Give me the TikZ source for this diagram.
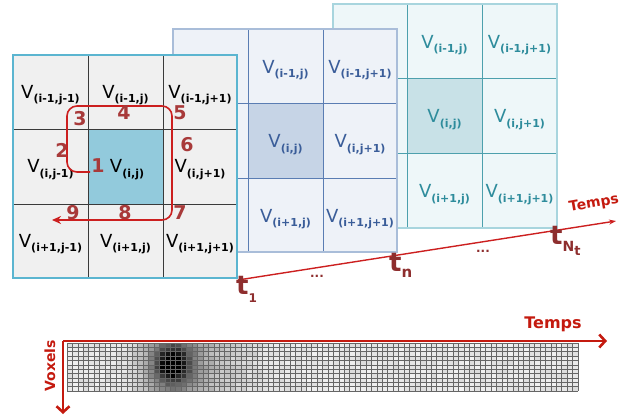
\documentclass[tikz,border=0pt]{standalone}
\usepackage{fontspec}
\setmainfont{DejaVu Sans}
\usetikzlibrary{arrows.meta}

\definecolor{loopred}{HTML}{CC1F1F}
\definecolor{numred}{HTML}{A83A3A}
\definecolor{tred}{HTML}{8E2E2E}
\definecolor{axisred}{HTML}{C41A0F}
\definecolor{frontborder}{HTML}{5BB5D0}
\definecolor{frontfill}{HTML}{F0F0F0}
\definecolor{frontmid}{HTML}{92CADC}
\definecolor{frontline}{HTML}{3A3A3A}
\definecolor{midborder}{HTML}{A9BDD9}
\definecolor{midfill}{HTML}{EEF2F8}
\definecolor{midmid}{HTML}{C6D4E6}
\definecolor{midline}{HTML}{5A7DB3}
\definecolor{midtext}{HTML}{3A5D99}
\definecolor{backborder}{HTML}{A8D5DE}
\definecolor{backfill}{HTML}{EEF7F9}
\definecolor{backmid}{HTML}{C8E1E7}
\definecolor{backline}{HTML}{4DA0AD}
\definecolor{backtext}{HTML}{2E8C9C}

% voxel label V_(..)
\newcommand{\vox}[1]{{\fontsize{18}{18}\selectfont V}\raisebox{-0.45em}{\fontsize{11}{11}\selectfont\bfseries(#1)}}

\begin{document}
\begin{tikzpicture}[x=1pt,y=-1pt,
  cell label/.style={inner sep=0pt,text=#1},
  step num/.style={inner sep=0pt,text=numred,font=\fontsize{19}{19}\selectfont\bfseries},
  time label/.style={inner sep=0pt,text=tred,font=\fontsize{26}{26}\selectfont\bfseries},
  dots/.style={inner sep=0pt,text=tred,font=\fontsize{12}{12}\selectfont\bfseries},
  axis title/.style={inner sep=0pt,text=axisred,font=\fontsize{#1}{#1}\selectfont\bfseries},
  scan/.style={loopred,line width=1.6pt,rounded corners=10pt,-{Stealth[length=9pt,width=8pt]}},
  time axis/.style={loopred,line width=1.4pt,-{Stealth[length=7pt,width=5pt]}},
  big axis/.style={axisred,line width=2.6pt,-{Straight Barb[length=6pt,width=13pt]}}]
\useasboundingbox (0,0) rectangle (630,418);

% back frame (t_Nt)
\fill[backfill] (333,4) rectangle (557,228);
\fill[backmid] (407,78) rectangle (482,153);
\draw[backline,line width=1pt] (407,4) -- (407,228) (482,4) -- (482,228)
  (333,78) -- (557,78) (333,153) -- (557,153);
\draw[backborder,line width=2pt] (333,4) rectangle (557,228);
\node[cell label=backtext] (b12) at (444.5,45) {\vox{i-1,j}};
\node[cell label=backtext] (b13) at (519.5,45) {\vox{i-1,j+1}};
\node[cell label=backtext] (b22) at (444.5,119.5) {\vox{i,j}};
\node[cell label=backtext] (b23) at (519.5,119.5) {\vox{i,j+1}};
\node[cell label=backtext] (b32) at (444.5,194.5) {\vox{i+1,j}};
\node[cell label=backtext] (b33) at (519.5,194.5) {\vox{i+1,j+1}};

% middle frame (t_n)
\fill[midfill] (173,29) rectangle (397,252);
\fill[midmid] (248,103) rectangle (323,178);
\draw[midline,line width=1pt] (248,29) -- (248,252) (323,29) -- (323,252)
  (173,103) -- (397,103) (173,178) -- (397,178);
\draw[midborder,line width=2pt] (173,29) rectangle (397,252);
\node[cell label=midtext] (m12) at (285.5,70) {\vox{i-1,j}};
\node[cell label=midtext] (m13) at (360,70) {\vox{i-1,j+1}};
\node[cell label=midtext] (m22) at (285.5,144.5) {\vox{i,j}};
\node[cell label=midtext] (m23) at (360,144.5) {\vox{i,j+1}};
\node[cell label=midtext] (m32) at (285.5,219) {\vox{i+1,j}};
\node[cell label=midtext] (m33) at (360,219) {\vox{i+1,j+1}};

% front frame (t_1)
\fill[frontfill] (13,55) rectangle (237,278);
\fill[frontmid] (88,129) rectangle (163,204);
\draw[frontline,line width=1pt] (88,55) -- (88,278) (163,55) -- (163,278)
  (13,129) -- (237,129) (13,204) -- (237,204);
\draw[frontborder,line width=2pt] (13,55) rectangle (237,278);
\node[cell label=black] (f11) at (50.5,95) {\vox{i-1,j-1}};
\node[cell label=black] (f12) at (125.5,95) {\vox{i-1,j}};
\node[cell label=black] (f13) at (200,95) {\vox{i-1,j+1}};
\node[cell label=black] (f21) at (50.5,169.5) {\vox{i,j-1}};
\node[cell label=black] (f22) at (127,169.5) {\vox{i,j}};
\node[cell label=black] (f23) at (200,169.5) {\vox{i,j+1}};
\node[cell label=black] (f31) at (50.5,244) {\vox{i+1,j-1}};
\node[cell label=black] (f32) at (125.5,244) {\vox{i+1,j}};
\node[cell label=black] (f33) at (200,244) {\vox{i+1,j+1}};

% scan order around the central voxel
\coordinate (scanstart) at (90,172);
\coordinate (scanend) at (52,220);
\draw[scan] (scanstart) -- (67,172) -- (67,106) -- (172,106) -- (172,220) -- (scanend);
\node[step num] (n1) at (98,166) {1};
\node[step num] (n2) at (62,150) {2};
\node[step num] (n3) at (80,119) {3};
\node[step num] (n4) at (124,113) {4};
\node[step num] (n5) at (180,113) {5};
\node[step num] (n6) at (187,145) {6};
\node[step num] (n7) at (180,213) {7};
\node[step num] (n8) at (125,213) {8};
\node[step num] (n9) at (73,213) {9};

% time axis
\coordinate (tstart) at (238,280);
\coordinate (tstop) at (616,221);
\draw[time axis] (tstart) -- (tstop);
\node[time label,anchor=north west] (t1) at (236,276)
  {t\raisebox{-0.3em}{\fontsize{12}{12}\selectfont 1}};
\node[time label,anchor=north west] (tn) at (389,253)
  {t\raisebox{-0.22em}{\fontsize{15}{15}\selectfont n}};
\node[time label,anchor=north west] (tN) at (550,226)
  {t\raisebox{-0.28em}{\fontsize{14}{14}\selectfont N\raisebox{-0.3em}{\fontsize{13}{13}\selectfont t}}};
\node[dots] (d1) at (317,276) {...};
\node[dots] (d2) at (483,251) {...};
\node[axis title=14,rotate=10] (temps1) at (594,204) {Temps};

% voxel x time matrix
\pgfmathsetseed{7}
\foreach \c in {0,...,93}{
  \foreach \r in {0,...,10}{
    \pgfmathsetmacro\xa{67+\c*5.436}
    \pgfmathsetmacro\ya{343+\r*4.364}
    \pgfmathsetmacro\gx{((\xa+2.7-172)/10)^2}
    \pgfmathsetmacro\gy{((\ya+2.2-364)/10)^2}
    \pgfmathsetmacro\g{min(100,5+9*rnd+75*exp(-min(15,\gx/3+\gy/3))+35*exp(-min(15,\gx/10+\gy/25))+12*exp(-min(15,((\xa-210)/10)^2/20)))}
    \fill[black!\g] (\xa,\ya) rectangle ++(5.44,4.37);
  }
}
\foreach \c in {0,...,94}
  \draw[black!60,line width=0.5pt] ({67+\c*5.436},343) -- ({67+\c*5.436},391);
\foreach \r in {0,...,11}
  \draw[black!60,line width=0.5pt] (67,{343+\r*4.364}) -- (578,{343+\r*4.364});

\coordinate (origin) at (63,341);
\coordinate (timeend) at (607,341);
\coordinate (voxend) at (63,414);
\draw[big axis] (origin) -- (timeend);
\draw[big axis] (origin) -- (voxend);
\node[axis title=16] (temps2) at (553,324) {Temps};
\node[axis title=14,rotate=90] (voxels) at (50,366) {Voxels};
\end{tikzpicture}
\end{document}
